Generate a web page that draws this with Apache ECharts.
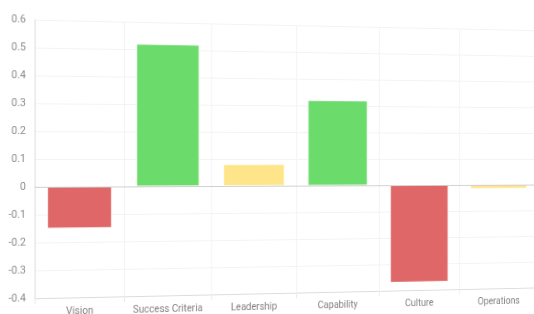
<!DOCTYPE html>
<html>
<head>
<meta charset="utf-8">
<script src="https://cdn.jsdelivr.net/npm/echarts@6/dist/echarts.min.js"></script>
<style>
  html, body { margin: 0; padding: 0; width: 534px; height: 314px; overflow: hidden; background: #fff; }
  #chart {
    position: absolute; left: 0; top: 0;
    width: 620px; height: 340px;
    transform-origin: 0 157px;
    transform: perspective(1773px) rotateY(15deg);
  }
</style>
</head>
<body>
<div id="chart"></div>
<script>
// data
var categories = ["Vision", "Success Criteria", "Leadership", "Capability", "Culture", "Operations"];
var scores = [-0.15, 0.52, 0.08, 0.32, -0.37, -0.015];
var ratings = ["bad", "good", "neutral", "good", "bad", "neutral"];

var palette = { bad: "#e06767", good: "#6bdc6b", neutral: "#ffe58a" };

var myChart = echarts.init(document.getElementById("chart"));
var option = {
  animation: false,
  textStyle: { fontFamily: "Roboto" },
  grid: { left: 36, right: 14, top: 19, height: 280 },
  xAxis: {
    type: "category",
    data: categories,
    axisLine: { onZero: false, lineStyle: { color: "#dcdcdc" } },
    axisTick: { show: true, interval: 0, length: 6, lineStyle: { color: "#ebebeb" } },
    axisLabel: { interval: 0, color: "#808080", fontSize: 10.5, margin: 9 },
    splitLine: { show: true, interval: 0, lineStyle: { color: "#f3f3f3" } },
  },
  yAxis: {
    type: "value",
    min: -0.4,
    max: 0.6,
    interval: 0.1,
    axisLine: { show: true, lineStyle: { color: "#dcdcdc" } },
    axisTick: { show: false },
    axisLabel: {
      color: "#8c8c8c",
      fontSize: 11,
      margin: 9,
      formatter: function (v) {
        return String(Math.round(v * 10) / 10);
      },
    },
    splitLine: { lineStyle: { color: "#f3f3f3" } },
  },
  series: [
    {
      type: "bar",
      barWidth: "72%",
      data: scores.map(function (v, i) {
        return {
          value: v,
          itemStyle: {
            color: palette[ratings[i]],
            borderColor: "rgba(255,255,255,0.45)",
            borderWidth: 1,
          },
        };
      }),
      markLine: {
        silent: true,
        symbol: "none",
        label: { show: false },
        lineStyle: { color: "#cfcfcf", type: "solid", width: 1 },
        data: [{ yAxis: 0 }],
      },
    },
  ],
};
myChart.setOption(option);
</script>
</body>
</html>
